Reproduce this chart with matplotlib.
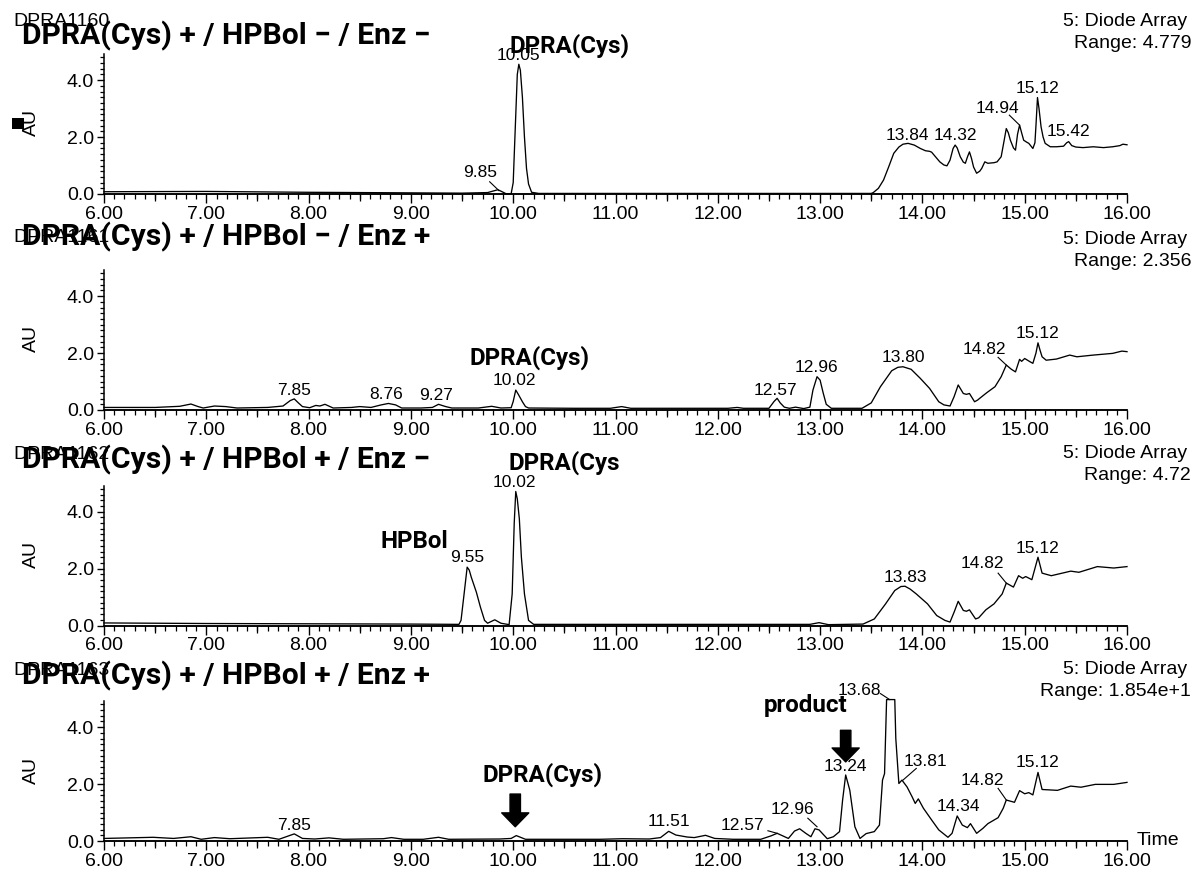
import matplotlib
matplotlib.use("Agg")
import matplotlib.pyplot as plt
from matplotlib.ticker import FixedLocator, MultipleLocator, FuncFormatter, NullFormatter
from matplotlib.patches import Rectangle

# ---------------- data ----------------
sample_ids = ["DPRA1160", "DPRA1161", "DPRA1162", "DPRA1163"]
titles = ["DPRA(Cys) + / HPBol \u2212 / Enz \u2212",
          "DPRA(Cys) + / HPBol \u2212 / Enz +",
          "DPRA(Cys) + / HPBol + / Enz \u2212",
          "DPRA(Cys) + / HPBol + / Enz +"]
detector = "5: Diode Array"
ranges = ["Range: 4.779", "Range: 2.356", "Range: 4.72", "Range: 1.854e+1"]
x_ticks = [6, 7, 8, 9, 10, 11, 12, 13, 14, 15, 16]
x_half_ticks = [6.5, 7.5, 8.5, 9.5, 10.5, 11.5, 12.5, 13.5, 14.5, 15.5]
y_ticks = [0.0, 2.0, 4.0]

t1 = [6.00, 7.00, 8.00, 9.00, 9.50, 9.75, 9.82, 9.85, 9.88, 9.93, 9.98, 10.00, 10.02, 10.04, 10.055,
      10.07, 10.09, 10.11, 10.13, 10.15, 10.18, 10.25, 11.0, 12.0, 13.0, 13.50, 13.52, 13.57, 13.62,
      13.67, 13.72, 13.77, 13.81, 13.86, 13.92, 13.98, 14.03, 14.07, 14.09, 14.13, 14.17, 14.21, 14.24,
      14.27, 14.30, 14.32, 14.34, 14.37, 14.40, 14.42, 14.44, 14.46, 14.48, 14.50, 14.53, 14.56, 14.58,
      14.61, 14.64, 14.70, 14.73, 14.77, 14.80, 14.82, 14.84, 14.86, 14.89, 14.91, 14.93, 14.95, 14.97,
      14.99, 15.02, 15.04, 15.08, 15.10, 15.11, 15.125, 15.14, 15.16, 15.18, 15.20, 15.25, 15.31, 15.38,
      15.41, 15.43, 15.46, 15.50, 15.57, 15.67, 15.77, 15.86, 15.93, 15.96, 16.00]
a1 = [0.08, 0.09, 0.06, 0.04, 0.03, 0.05, 0.12, 0.15, 0.10, 0.01, 0.01, 0.40, 2.30, 4.20, 4.56,
      4.35, 3.40, 2.00, 0.90, 0.35, 0.06, 0.02, 0.02, 0.02, 0.02, 0.02, 0.05, 0.20, 0.49,
      0.95, 1.43, 1.65, 1.75, 1.78, 1.72, 1.60, 1.52, 1.50, 1.47, 1.30, 1.13, 1.02, 0.99,
      1.19, 1.60, 1.72, 1.62, 1.31, 1.12, 1.08, 1.30, 1.48, 1.25, 0.95, 0.73, 0.80, 0.90,
      1.13, 1.08, 1.10, 1.13, 1.31, 1.90, 2.30, 2.15, 1.89, 1.62, 1.54, 2.10, 2.42, 2.15,
      1.89, 1.82, 1.78, 1.60, 1.80, 2.40, 3.39, 3.00, 2.36, 2.00, 1.78, 1.66, 1.66, 1.68,
      1.80, 1.84, 1.70, 1.65, 1.63, 1.66, 1.63, 1.66, 1.70, 1.75, 1.73]

t2 = [6.00, 6.50, 6.74, 6.85, 6.92, 6.97, 7.08, 7.19, 7.30, 7.60, 7.75, 7.82, 7.86, 7.90, 7.94, 8.01,
      8.07, 8.11, 8.16, 8.24, 8.42, 8.50, 8.61, 8.71, 8.78, 8.85, 8.91, 9.10, 9.21, 9.27, 9.34, 9.40,
      9.66, 9.79, 9.88, 9.98, 10.00, 10.025, 10.05, 10.09, 10.12, 10.15, 10.60, 10.95, 11.06, 11.15,
      12.10, 12.19, 12.25, 12.50, 12.55, 12.58, 12.61, 12.65, 12.70, 12.76, 12.84, 12.90, 12.93, 12.97,
      13.00, 13.03, 13.06, 13.11, 13.41, 13.50, 13.59, 13.70, 13.76, 13.81, 13.89, 13.98, 14.07, 14.16,
      14.21, 14.27, 14.31, 14.35, 14.38, 14.40, 14.43, 14.46, 14.51, 14.54, 14.56, 14.63, 14.71, 14.77,
      14.82, 14.87, 14.91, 14.95, 14.97, 15.00, 15.05, 15.08, 15.11, 15.13, 15.15, 15.17, 15.21, 15.31,
      15.44, 15.51, 15.67, 15.86, 15.95, 16.00]
a2 = [0.09, 0.09, 0.13, 0.21, 0.12, 0.07, 0.14, 0.12, 0.07, 0.09, 0.14, 0.33, 0.39, 0.25, 0.12, 0.08,
      0.16, 0.14, 0.20, 0.07, 0.09, 0.12, 0.09, 0.18, 0.23, 0.18, 0.07, 0.07, 0.09, 0.20, 0.12, 0.07,
      0.07, 0.13, 0.07, 0.08, 0.30, 0.70, 0.55, 0.29, 0.12, 0.07, 0.06, 0.06, 0.12, 0.06,
      0.06, 0.09, 0.06, 0.06, 0.30, 0.41, 0.25, 0.10, 0.06, 0.10, 0.05, 0.10, 0.70, 1.17,
      1.05, 0.60, 0.20, 0.06, 0.06, 0.25, 0.82, 1.38, 1.50, 1.52, 1.43, 1.11, 0.76, 0.29,
      0.18, 0.14, 0.47, 0.88, 0.70, 0.58, 0.55, 0.58, 0.29, 0.35, 0.41, 0.61, 0.82, 1.17,
      1.58, 1.43, 1.34, 1.78, 1.71, 1.81, 1.70, 1.64, 2.00, 2.36, 2.10, 1.87, 1.75, 1.79,
      1.93, 1.87, 1.93, 1.99, 2.07, 2.05]

t3 = [6.00, 7.00, 8.00, 9.00, 9.47, 9.49, 9.52, 9.55, 9.57, 9.59, 9.64, 9.68, 9.72, 9.75, 9.79, 9.82,
      9.85, 9.88, 9.96, 9.99, 10.01, 10.025, 10.04, 10.06, 10.08, 10.11, 10.15, 10.20, 11.0, 12.0,
      12.90, 12.99, 13.08, 13.42, 13.53, 13.64, 13.73, 13.79, 13.83, 13.88, 13.94, 14.05, 14.14, 14.22,
      14.27, 14.31, 14.35, 14.40, 14.43, 14.46, 14.52, 14.55, 14.62, 14.70, 14.78, 14.82, 14.89, 14.94,
      14.98, 15.01, 15.07, 15.13, 15.17, 15.26, 15.45, 15.53, 15.71, 15.87, 16.00]
a3 = [0.09, 0.07, 0.06, 0.05, 0.04, 0.18, 1.11, 2.05, 1.95, 1.70, 1.17, 0.64, 0.18, 0.08, 0.15, 0.20,
      0.14, 0.08, 0.03, 1.11, 3.60, 4.71, 4.45, 3.75, 2.40, 1.11, 0.18, 0.04, 0.04, 0.04,
      0.04, 0.10, 0.03, 0.05, 0.23, 0.76, 1.23, 1.37, 1.38, 1.28, 1.11, 0.76, 0.35, 0.18,
      0.12, 0.47, 0.85, 0.53, 0.50, 0.55, 0.23, 0.27, 0.55, 0.76, 1.11, 1.49, 1.35, 1.75,
      1.66, 1.72, 1.61, 2.40, 1.84, 1.75, 1.91, 1.87, 2.07, 2.02, 2.07]

t4 = [6.00, 6.48, 6.68, 6.85, 6.95, 7.08, 7.23, 7.60, 7.71, 7.86, 7.94, 8.06, 8.20, 8.34, 8.73, 8.81,
      8.93, 9.12, 9.27, 9.37, 9.87, 9.98, 10.03, 10.12, 10.85, 11.07, 11.33, 11.44, 11.52, 11.59, 11.70,
      11.77, 11.88, 11.97, 12.15, 12.42, 12.52, 12.58, 12.69, 12.75, 12.80, 12.86, 12.91, 12.95, 12.99,
      13.07, 13.13, 13.19, 13.22, 13.25, 13.29, 13.34, 13.39, 13.45, 13.53, 13.58, 13.61, 13.63, 13.65,
      13.73, 13.74, 13.77, 13.80, 13.85, 13.90, 13.93, 13.96, 14.01, 14.09, 14.16, 14.25, 14.29, 14.34,
      14.39, 14.44, 14.47, 14.53, 14.59, 14.64, 14.74, 14.79, 14.82, 14.90, 14.95, 15.00, 15.04, 15.08,
      15.13, 15.17, 15.32, 15.45, 15.55, 15.69, 15.87, 16.00]
a4 = [0.09, 0.13, 0.09, 0.15, 0.06, 0.12, 0.08, 0.13, 0.06, 0.25, 0.09, 0.07, 0.11, 0.06, 0.08, 0.12,
      0.06, 0.06, 0.13, 0.06, 0.07, 0.09, 0.19, 0.06, 0.06, 0.08, 0.07, 0.12, 0.34, 0.21, 0.14,
      0.12, 0.20, 0.09, 0.06, 0.06, 0.18, 0.27, 0.09, 0.35, 0.43, 0.27, 0.15, 0.43, 0.39,
      0.08, 0.15, 0.33, 1.44, 2.32, 1.79, 0.50, 0.09, 0.26, 0.33, 0.56, 2.14, 2.37, 4.97,
      4.97, 3.60, 2.02, 2.14, 1.90, 1.55, 1.32, 1.48, 1.15, 0.74, 0.39, 0.13, 0.27, 0.88,
      0.56, 0.47, 0.61, 0.27, 0.44, 0.61, 0.82, 1.15, 1.44, 1.36, 1.77, 1.66, 1.70, 1.62,
      2.41, 1.81, 1.78, 1.93, 1.89, 1.99, 1.99, 2.06]

times = [t1, t2, t3, t4]
values = [a1, a2, a3, a4]

# peak labels: (text, x, y, leader) ; leader = (x_from, y_from, x_to, y_to) or None
peaks1 = [("9.85", 9.68, 0.74, (9.77, 0.43, 9.86, 0.12)), ("10.05", 10.05, 4.88, None),
          ("13.84", 13.85, 2.07, None), ("14.32", 14.32, 2.07, None),
          ("14.94", 14.73, 3.00, (14.85, 2.77, 14.95, 2.42)), ("15.12", 15.13, 3.71, None),
          ("15.42", 15.43, 2.19, None)]
peaks2 = [("7.85", 7.86, 0.70, None), ("8.76", 8.76, 0.53, None), ("9.27", 9.25, 0.50, None),
          ("10.02", 10.01, 1.03, None), ("12.57", 12.56, 0.70, None), ("12.96", 12.96, 1.50, None),
          ("13.80", 13.81, 1.85, None), ("14.82", 14.61, 2.13, (14.74, 1.85, 14.82, 1.58)),
          ("15.12", 15.13, 2.69, None)]
peaks3 = [("9.55", 9.55, 2.40, None), ("10.02", 10.01, 5.04, None), ("13.83", 13.83, 1.70, None),
          ("14.82", 14.59, 2.17, (14.74, 1.84, 14.82, 1.49)), ("15.12", 15.13, 2.71, None)]
peaks4 = [("7.85", 7.86, 0.54, None), ("11.51", 11.52, 0.68, None),
          ("12.57", 12.24, 0.56, (12.49, 0.36, 12.58, 0.27)),
          ("12.96", 12.73, 1.09, (12.88, 0.80, 12.97, 0.50)), ("13.24", 13.25, 2.61, None),
          ("13.68", 13.38, 5.30, (13.59, 5.18, 13.68, 4.97)),
          ("13.81", 14.03, 2.78, (13.94, 2.55, 13.81, 2.14)), ("14.34", 14.35, 1.20, None),
          ("14.82", 14.59, 2.14, (14.74, 1.85, 14.82, 1.44)), ("15.12", 15.13, 2.75, None)]
peak_labels = [peaks1, peaks2, peaks3, peaks4]

# ---------------- layout ----------------
W, H = 1197, 871
fig = plt.figure(figsize=(W / 100, H / 100), dpi=100)
plt.rcParams['font.family'] = ['Liberation Sans', 'DejaVu Sans']
BOLD = ['Roboto', 'DejaVu Sans']

def fx(px):
    return px / W

def fy(py):
    return 1 - py / H

ax_left, ax_right = 104, 1127
bottoms = [194, 410, 625.5, 841]
ax_h = 140
ytop = 4.92
id_y = [21, 238, 454, 670]
title_y = [36, 237, 460, 676]
diode_y = [22, 239, 453, 669]
range_y = [44, 261, 475, 691]
PT = 0.72  # points per pixel at 100 dpi

axes = []
for i in range(4):
    ax = fig.add_axes([fx(ax_left), fy(bottoms[i]), (ax_right - ax_left) / W, ax_h / H])
    ax.patch.set_visible(False)
    ax.plot(times[i], values[i], color='black', lw=0.95, clip_on=False)
    ax.set_xlim(6, 16)
    ax.set_ylim(0, ytop)
    for s in ('top', 'right'):
        ax.spines[s].set_visible(False)
    for s in ('left', 'bottom'):
        ax.spines[s].set_linewidth(1.1)
    ax.xaxis.set_major_locator(FixedLocator(x_ticks))
    ax.xaxis.set_minor_locator(MultipleLocator(0.1))
    ax.xaxis.set_major_formatter(FuncFormatter(lambda v, p: f"{v:.2f}"))
    ax.yaxis.set_major_locator(FixedLocator(y_ticks))
    ax.yaxis.set_minor_locator(MultipleLocator(0.2))
    ax.yaxis.set_major_formatter(FuncFormatter(lambda v, p: f"{v:.1f}"))
    ax.tick_params(axis='x', which='major', direction='out', length=9 * PT, width=1.0,
                   pad=2, labelsize=14)
    ax.tick_params(axis='x', which='minor', direction='out', length=5 * PT, width=0.9)
    ax.tick_params(axis='y', which='major', direction='out', length=7 * PT, width=1.0,
                   pad=2, labelsize=14)
    ax.tick_params(axis='y', which='minor', direction='out', length=4 * PT, width=0.9)

    # medium half-unit ticks
    sec = ax.secondary_xaxis('bottom')
    sec.xaxis.set_major_locator(FixedLocator(x_half_ticks))
    sec.xaxis.set_major_formatter(NullFormatter())
    sec.tick_params(axis='x', which='major', direction='out', length=7 * PT, width=0.9)
    sec.spines['bottom'].set_linewidth(1.1)

    for (txt, x, y, lead) in peak_labels[i]:
        ax.text(x, y, txt, ha='center', va='center', fontsize=12.5, clip_on=False)
        if lead is not None:
            ax.plot([lead[0], lead[2]], [lead[1], lead[3]], color='black', lw=0.8,
                    clip_on=False)
    fig.text(fx(31.5), fy(bottoms[i] - 71), "AU", rotation=90, ha='center', va='center',
             fontsize=14)
    fig.text(fx(13), fy(id_y[i]), sample_ids[i], ha='left', va='center', fontsize=14)
    fig.text(fx(1187), fy(diode_y[i]), detector, ha='right', va='center', fontsize=14)
    fig.text(fx(1191), fy(range_y[i]), ranges[i], ha='right', va='center', fontsize=14)
    axes.append(ax)

# bold titles
title_objs = [fig.text(fx(22), fy(title_y[i]), titles[i], ha='left', va='center',
                       fontsize=20, fontweight='bold', family=BOLD) for i in range(4)]

# bold peak annotations
bold_specs = [("DPRA(Cys)", 570, 46, 'center'),
              ("DPRA(Cys)", 530, 358, 'center'),
              ("HPBol", 414, 542, 'center'),
              ("DPRA(Cys", 509, 463, 'left'),
              ("DPRA(Cys)", 543, 775, 'center'),
              ("product", 806, 705, 'center')]
bold_objs = [fig.text(fx(x), fy(y), s, ha=ha, va='center', fontsize=16,
                      fontweight='bold', family=BOLD) for (s, x, y, ha) in bold_specs]

fig.text(fx(1137), fy(840), "Time", ha='left', va='center', fontsize=14)

# little black marker next to the first AU label
fig.patches.append(Rectangle((fx(12), fy(129)), 12 / W, 11 / H, transform=fig.transFigure,
                             facecolor='black', edgecolor='none'))

# arrows in the last panel
ax4 = axes[3]
arrow_style = 'simple,head_length=1.0,head_width=1.95,tail_width=0.75'
ax4.annotate('', xy=(10.02, 0.50), xytext=(10.02, 1.65),
             arrowprops=dict(arrowstyle=arrow_style, mutation_scale=10, color='black',
                             shrinkA=0, shrinkB=0), annotation_clip=False)
ax4.annotate('', xy=(13.25, 2.78), xytext=(13.25, 3.89),
             arrowprops=dict(arrowstyle=arrow_style, mutation_scale=10, color='black',
                             shrinkA=0, shrinkB=0), annotation_clip=False)

# fit bold text widths
fig.canvas.draw()
r = fig.canvas.get_renderer()
for t in title_objs:
    w = t.get_window_extent(r).width
    t.set_fontsize(t.get_fontsize() * 408 / w)
w = bold_objs[0].get_window_extent(r).width
bsize = bold_objs[0].get_fontsize() * 120 / w
for t in bold_objs:
    t.set_fontsize(bsize)

fig.savefig("out.png", dpi=100)
